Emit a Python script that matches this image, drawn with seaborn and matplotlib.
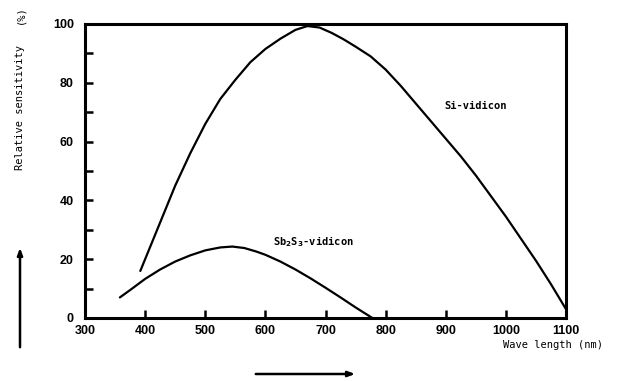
import matplotlib
matplotlib.use("Agg")
import matplotlib.pyplot as plt
import seaborn as sns
import pandas as pd
from matplotlib.ticker import MultipleLocator

# Data
si_wave = [392, 410, 430, 450, 475, 500, 525, 550, 575, 600, 625, 650, 670, 690, 710, 730, 750,
           775, 800, 825, 850, 875, 900, 925, 950, 975, 1000, 1025, 1050, 1075, 1100]
si_sens = [16, 25, 35, 45, 56, 66, 74.5, 81, 87, 91.5, 95, 98, 99.3, 98.8, 97, 94.8, 92.3,
           89, 84.5, 79, 73, 67, 61, 55, 48.5, 41.5, 34.5, 27, 19.5, 11.5, 3]
sb_wave = [358, 375, 400, 425, 450, 475, 500, 525, 545, 565, 585, 600, 625, 650, 675, 700, 725, 750, 778]
sb_sens = [7, 9.5, 13.3, 16.5, 19.2, 21.3, 23, 24, 24.3, 23.8, 22.6, 21.5, 19.2, 16.5, 13.5, 10.3, 7, 3.6, 0]
x_ticks = [300, 400, 500, 600, 700, 800, 900, 1000, 1100]
y_ticks = [0, 20, 40, 60, 80, 100]

si_df = pd.DataFrame({"wave": si_wave, "sens": si_sens})
sb_df = pd.DataFrame({"wave": sb_wave, "sens": sb_sens})

sns.set_style("ticks")
plt.rcParams["font.family"] = ["Liberation Sans Narrow", "Liberation Sans", "DejaVu Sans"]
plt.rcParams["text.color"] = "black"
plt.rcParams["xtick.labelcolor"] = "black"
plt.rcParams["ytick.labelcolor"] = "black"

fig = plt.figure(figsize=(6.18, 3.81), dpi=100)
ax = fig.add_axes([85 / 618, 1 - 318 / 381, (566 - 85) / 618, (318 - 24) / 381])

sns.lineplot(data=si_df, x="wave", y="sens", ax=ax, color="black", linewidth=1.6, clip_on=False)
sns.lineplot(data=sb_df, x="wave", y="sens", ax=ax, color="black", linewidth=1.6, clip_on=False)

ax.set_xlim(300, 1100)
ax.set_ylim(0, 100)
ax.set_xticks(x_ticks)
ax.set_yticks(y_ticks)
ax.yaxis.set_minor_locator(MultipleLocator(10))
ax.tick_params(axis="both", which="both", direction="in", length=6, width=1.8, color="black",
               labelcolor="black")
ax.tick_params(axis="y", which="major", labelsize=9, pad=8)
ax.tick_params(axis="x", which="major", labelsize=9, pad=5)
for lab in ax.get_xticklabels() + ax.get_yticklabels():
    lab.set_fontweight("bold")
for s in ax.spines.values():
    s.set_linewidth(2.2)
    s.set_color("black")
ax.set_xlabel("")
ax.set_ylabel("")

mono = "DejaVu Sans Mono"
ax.text(897, 72, "Si-vidicon", family=mono, fontsize=7.5, fontweight="bold", va="center", ha="left")
ax.text(612, 26, r"Sb$_\mathbf{2}$S$_\mathbf{3}$-vidicon", family=mono, fontsize=7.5,
        fontweight="bold", va="center", ha="left")

fig.text(20 / 618, 1 - 108 / 381, "Relative sensitivity", family=mono, fontsize=7.5,
         rotation=90, ha="center", va="center")
fig.text(20 / 618, 1 - 15 / 381, "(%)", family=mono, fontsize=7.5,
         rotation=90, ha="center", va="center")
fig.text(553 / 618, 1 - 345 / 381, "Wave length (nm)", family=mono, fontsize=7.5,
         ha="center", va="center")

# decorative arrows
fig.patches.append(matplotlib.patches.FancyArrowPatch(
    (20 / 618, 1 - 350 / 381), (20 / 618, 1 - 245 / 381), transform=fig.transFigure,
    arrowstyle="-|>,head_length=4,head_width=1.5", color="black", linewidth=1.8))
fig.patches.append(matplotlib.patches.FancyArrowPatch(
    (253 / 618, 1 - 374 / 381), (358 / 618, 1 - 374 / 381), transform=fig.transFigure,
    arrowstyle="-|>,head_length=4,head_width=1.5", color="black", linewidth=1.8))

fig.savefig("out.png", dpi=100)
